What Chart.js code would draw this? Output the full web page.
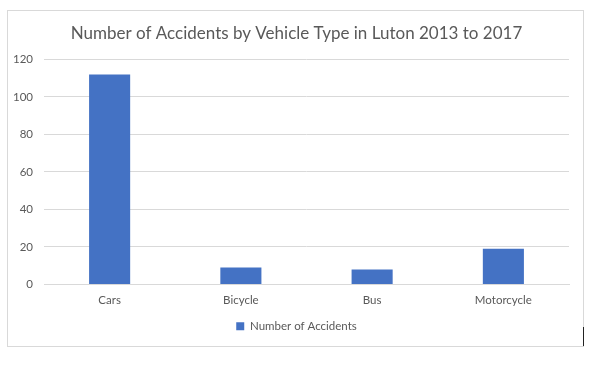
<!DOCTYPE html>
<html>
<head>
<meta charset="utf-8">
<script src="https://cdn.jsdelivr.net/npm/chart.js@4"></script>
<style>
    body { margin: 0; background: #fff; }
    #box {
        position: absolute; left: 7px; top: 10px;
        width: 575px; height: 335px;
        border: 1px solid #d9d9d9;
    }
    #mark { position: absolute; left: 583px; top: 327px; width: 1px; height: 19px; background: #222; }
</style>
</head>
<body>
<div id="box"><canvas id="chart" width="575" height="335"></canvas></div>
<div id="mark"></div>
<script>
// Chart data
const categories = ['Cars', 'Bicycle', 'Bus', 'Motorcycle'];
const accidents = [112, 9, 8, 19];
const seriesName = 'Number of Accidents';
const yTicks = [0, 20, 40, 60, 80, 100, 120];

const textColor = '#595959';
const fontFamily = 'Lato, "Open Sans", sans-serif';

// Excel centres title and legend on the whole chart box, not the plot
const shiftBlocks = {
    id: 'shiftBlocks',
    afterLayout: function (chart) {
        [chart.titleBlock, chart.legend].forEach(function (b) {
            if (b) { b.left += 8; b.right += 8; }
        });
    }
};

new Chart(document.getElementById('chart').getContext('2d'), {
    type: 'bar',
    data: {
        labels: categories,
        datasets: [{
            label: seriesName,
            data: accidents,
            backgroundColor: '#4472C4',
            categoryPercentage: 1,
            barPercentage: 0.313
        }]
    },
    options: {
        responsive: false,
        animation: false,
        layout: { padding: { left: 0, right: 14, top: 0, bottom: 4 } },
        scales: {
            y: {
                min: 0,
                max: 120,
                afterBuildTicks: function (scale) {
                    scale.ticks = yTicks.map(v => ({ value: v }));
                },
                afterFit: function (scale) { scale.width = 36; },
                border: { display: false },
                grid: { color: '#d9d9d9', drawTicks: false },
                ticks: { color: textColor, padding: 11, font: { family: fontFamily, size: 11.5 } }
            },
            x: {
                afterFit: function (scale) { scale.height = 26; },
                border: { color: '#d9d9d9' },
                grid: { display: false, drawTicks: false },
                ticks: { color: textColor, padding: 9, font: { family: fontFamily, size: 11.5 } }
            }
        },
        plugins: {
            title: {
                display: true,
                text: 'Number of Accidents by Vehicle Type in Luton 2013 to 2017',
                color: textColor,
                font: { family: fontFamily, size: 17, weight: 'normal' },
                padding: { top: 12, bottom: 16 }
            },
            legend: {
                position: 'bottom',
                labels: {
                    color: textColor,
                    boxWidth: 8,
                    boxHeight: 8,
                    padding: 10,
                    font: { family: fontFamily, size: 11.5 }
                }
            },
            tooltip: { enabled: false }
        }
    },
    plugins: [shiftBlocks]
});
</script>
</body>
</html>
